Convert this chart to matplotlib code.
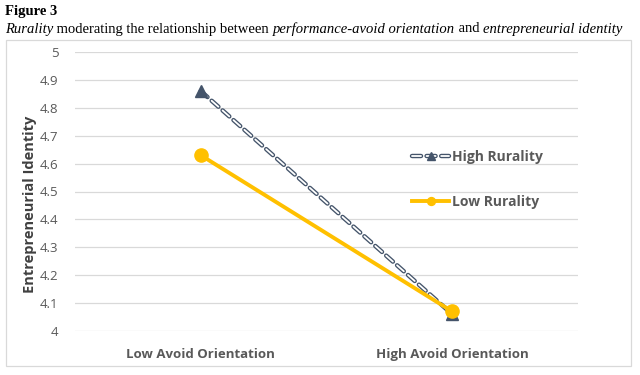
import matplotlib
matplotlib.use("Agg")
import matplotlib.pyplot as plt
from matplotlib.patches import Rectangle
from matplotlib.legend_handler import HandlerTuple

# data
categories = ["Low Avoid Orientation", "High Avoid Orientation"]
high_rurality = [4.86, 4.06]
low_rurality = [4.63, 4.07]
y_ticks = [4, 4.1, 4.2, 4.3, 4.4, 4.5, 4.6, 4.7, 4.8, 4.9, 5]

plt.rcParams['font.family'] = ['Open Sans', 'DejaVu Sans']
plt.rcParams['lines.scale_dashes'] = False

grey_txt = "#595959"
dark = "#44546A"
gold = "#FFC000"

fig = plt.figure(figsize=(6.4, 3.75), dpi=100)
W, H = 640, 375
ax = fig.add_axes([75 / W, 1 - 331 / H, (578 - 75) / W, (331 - 52) / H])

x = list(range(len(categories)))
dash = (0, (6.5, 4))
l1, = ax.plot(x, high_rurality, color=dark, lw=3.2, linestyle=dash,
              dash_capstyle='round', zorder=3)
l2, = ax.plot(x, high_rurality, color="white", lw=1.3, linestyle=dash,
              dash_capstyle='round', zorder=3.1)
m1, = ax.plot(x, high_rurality, linestyle='none', marker='^', ms=9,
              color=dark, zorder=4)
l3, = ax.plot(x, low_rurality, color=gold, lw=2.8, marker='o', ms=9.5,
              zorder=5)

ax.set_xlim(-0.5, 1.5)
ax.set_ylim(4, 5)
ax.set_yticks(y_ticks)
ax.set_yticklabels([f"{v:g}" for v in y_ticks])
ax.set_xticks(x)
ax.set_xticklabels(categories, fontweight='bold')
ax.tick_params(axis='y', length=0, pad=12, labelsize=9.5, labelcolor=grey_txt)
ax.tick_params(axis='x', length=0, pad=12, labelsize=9.5, labelcolor=grey_txt)
ax.grid(axis='y', color="#D9D9D9", lw=0.9)
ax.set_axisbelow(True)
for s in ax.spines.values():
    s.set_visible(False)
ax.set_ylabel("Entrepreneurial Identity", fontsize=10.5, fontweight='bold',
              color="#404040")
ax.yaxis.set_label_coords((37 - 75) / 503, 1 - (204 - 52) / 279)

leg = ax.legend([(l1, l2, m1), l3], ["High Rurality", "Low Rurality"],
                handler_map={tuple: HandlerTuple(ndivide=1)},
                loc='upper left', bbox_to_anchor=((405 - 75) / 503, 1 - (143 - 52) / 279),
                frameon=False, borderpad=0, handlelength=2.7, handletextpad=0.15,
                labelspacing=2.2, markerscale=0.6,
                prop={'weight': 'bold', 'size': 10})
for t in leg.get_texts():
    t.set_color(grey_txt)

# chart border
fig.add_artist(Rectangle((6 / W, 1 - 366 / H), (631 - 6) / W, (366 - 40) / H,
                         transform=fig.transFigure, fill=False,
                         edgecolor="#D9D9D9", lw=0.9))

# figure caption
serif = ['Liberation Serif', 'DejaVu Serif']
fig.text(5 / W, 1 - 12 / H, "Figure 3", family=serif, fontweight='bold',
         fontsize=10.5, va='center')
pieces = [("Rurality", 'italic'), (" moderating the relationship between ", 'normal'),
          ("performance-avoid orientation", 'italic'), (" and ", 'normal'),
          ("entrepreneurial identity", 'italic')]
renderer = fig.canvas.get_renderer()
xpos = 5
for txt, style in pieces:
    t = fig.text(xpos / W, 1 - 29 / H, txt, family=serif, style=style,
                 fontsize=10.5, va='center')
    xpos += t.get_window_extent(renderer).width

fig.savefig("out.png", dpi=100)
